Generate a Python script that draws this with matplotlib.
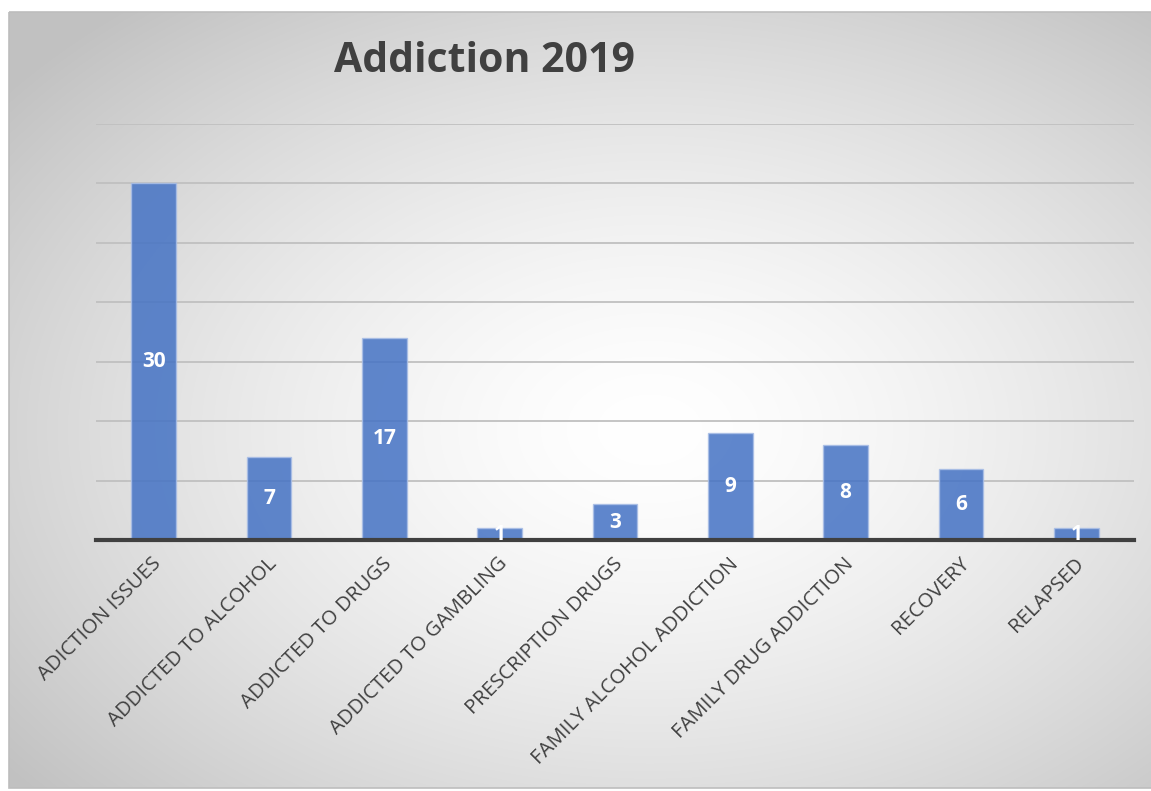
import numpy as np
import matplotlib
matplotlib.use("Agg")
import matplotlib.pyplot as plt
from matplotlib.patches import Rectangle

categories = ["ADICTION ISSUES", "ADDICTED TO ALCOHOL", "ADDICTED TO DRUGS",
              "ADDICTED TO GAMBLING", "PRESCRIPTION DRUGS", "FAMILY ALCOHOL ADDICTION",
              "FAMILY DRUG ADDICTION", "RECOVERY", "RELAPSED"]
values = [30, 7, 17, 1, 3, 9, 8, 6, 1]
title = "Addiction 2019"

W, H = 1151, 791
dpi = 100
fig = plt.figure(figsize=(W / dpi, H / dpi), dpi=dpi)
fig.patch.set_facecolor("white")

# background radial gradient panel
bx0, by0, bx1, by1 = 9, 12, 1160, 788  # pixel box (top-left origin)
bg = fig.add_axes([0, 0, 1, 1], zorder=-10)
bg.set_xlim(0, W)
bg.set_ylim(H, 0)
bg.axis("off")
yy, xx = np.mgrid[0:H, 0:W] + 0.5
cx, cy = 650, 430
rx, ry = (bx1 - bx0) / 2, (by1 - by0) / 2
d = np.sqrt(((xx - cx) / rx) ** 2 + ((yy - cy) / ry) ** 2) / np.sqrt(2)
d = np.clip(d, 0, 1)
g = 1.0 - (1.0 - 0.76) * d ** 1.5
img = np.ones((H, W, 3))
inside = (xx >= bx0) & (xx <= bx1) & (yy >= by0) & (yy <= by1)
for c in range(3):
    img[..., c] = np.where(inside, g, 1.0)
bg.imshow(img, extent=(0, W, H, 0), interpolation="bilinear", aspect="auto")
bg.add_patch(Rectangle((bx0, by0), bx1 - bx0, by1 - by0, fill=False,
                       edgecolor="#bdbdbd", lw=1.2))

# main axes
left, right = 96 / W, 1134 / W
bottom, top = (H - 540) / H, (H - 124) / H
ax = fig.add_axes([left, bottom, right - left, top - bottom])
ax.patch.set_alpha(0)
x = np.arange(len(categories))
ax.set_xlim(-0.5, len(categories) - 0.5)
ax.set_ylim(0, 35)
ax.set_yticks(np.arange(0, 36, 5))
ax.yaxis.grid(True, color="#c0c0c0", lw=1.3)
ax.set_axisbelow(True)
for s in ["top", "right", "left"]:
    ax.spines[s].set_visible(False)
ax.spines["bottom"].set_color("#404040")
ax.spines["bottom"].set_linewidth(3)
ax.spines["bottom"].set_zorder(5)
ax.tick_params(axis="y", length=0, labelleft=False)
ax.tick_params(axis="x", length=0, pad=10)

bars = ax.bar(x, values, width=0.39, color="#4472C4", alpha=0.85,
              edgecolor="#A9BEE6", linewidth=1.0, zorder=3)
for xi, v in zip(x, values):
    ax.text(xi, v / 2, str(v), ha="center", va="center", color="white",
            fontsize=15, fontweight="bold", family="Open Sans", zorder=6)

ax.set_xticks(x)
ax.set_xticklabels(categories, rotation=45, ha="right", va="center",
                   rotation_mode="anchor", fontsize=14.7, family="Open Sans",
                   color="#404040")
for lbl in ax.get_xticklabels():
    lbl.set_transform(lbl.get_transform() + matplotlib.transforms.ScaledTranslation(5 / dpi, -7 / dpi, fig.dpi_scale_trans))

fig.text(484.5 / W, 1 - 62 / H, title, ha="center", va="center", fontsize=29.5,
         fontweight="bold", family="Open Sans", color="#404040")

fig.savefig("out.png", dpi=dpi)
